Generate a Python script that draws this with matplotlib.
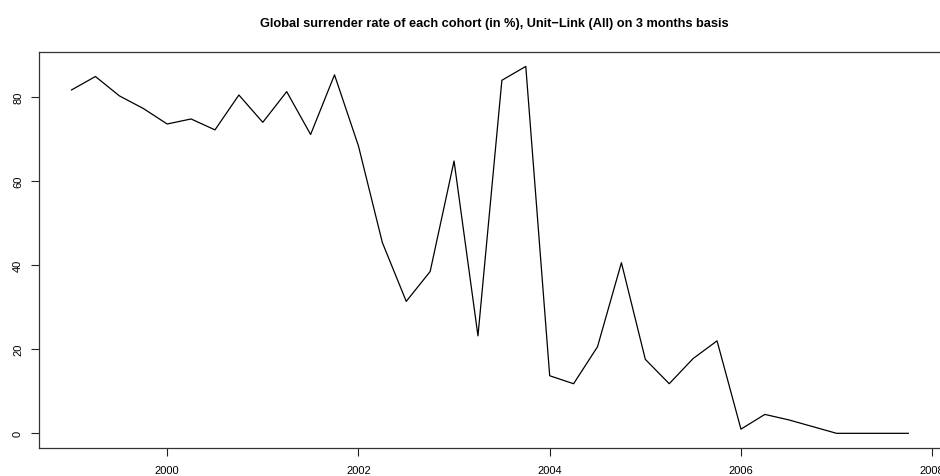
import matplotlib
matplotlib.use("Agg")
import matplotlib.pyplot as plt

plt.rcParams['font.family'] = ['Liberation Sans', 'DejaVu Sans']

# cohort start (decimal year, quarterly) and surrender rate in %
cohort = [1999.00, 1999.25, 1999.50, 1999.75,
          2000.00, 2000.25, 2000.50, 2000.75,
          2001.00, 2001.25, 2001.50, 2001.75,
          2002.00, 2002.25, 2002.50, 2002.75,
          2003.00, 2003.25, 2003.50, 2003.75,
          2004.00, 2004.25, 2004.50, 2004.75,
          2005.00, 2005.25, 2005.50, 2005.75,
          2006.00, 2006.25, 2006.50, 2006.75,
          2007.00, 2007.25, 2007.50, 2007.75]
surrender = [81.7, 84.9, 80.3, 77.3,
             73.6, 74.8, 72.2, 80.5,
             74.0, 81.3, 71.1, 85.3,
             68.4, 45.4, 31.4, 38.5,
             64.8, 23.2, 84.0, 87.3,
             13.7, 11.8, 20.6, 40.6,
             17.6, 11.8, 17.8, 22.0,
             1.0, 4.5, 3.2, 1.6,
             0.0, 0.0, 0.0, 0.0]
xticks = [2000, 2002, 2004, 2006, 2008]
yticks = [0, 20, 40, 60, 80]
title = "Global surrender rate of each cohort (in %), Unit\u2212Link (All) on 3 months basis"

fig = plt.figure(figsize=(9.4, 4.77), dpi=100)
ax = fig.add_axes([0.0415, 0.0587, 0.9604, 0.8308])

ax.plot(cohort, surrender, color='black', linewidth=0.9)

ax.set_xlim(1998.66, 2008.10)
ax.set_ylim(-3.49, 90.8)
ax.set_xticks(xticks)
ax.set_yticks(yticks)
ax.set_xticklabels([str(t) for t in xticks])
ax.set_yticklabels([str(t) for t in yticks], rotation=90, va='center')
ax.tick_params(axis='both', length=5.5, width=0.8, labelsize=8.0, color='#222222')
ax.tick_params(axis='x', pad=7)
ax.tick_params(axis='y', pad=6)
for sp in ax.spines.values():
    sp.set_linewidth(0.9)
    sp.set_color('#333333')

fig.text(0.5255, 0.962, title, ha='center', va='top', fontsize=9.2, fontweight='bold')

fig.savefig("out.png", dpi=100)
